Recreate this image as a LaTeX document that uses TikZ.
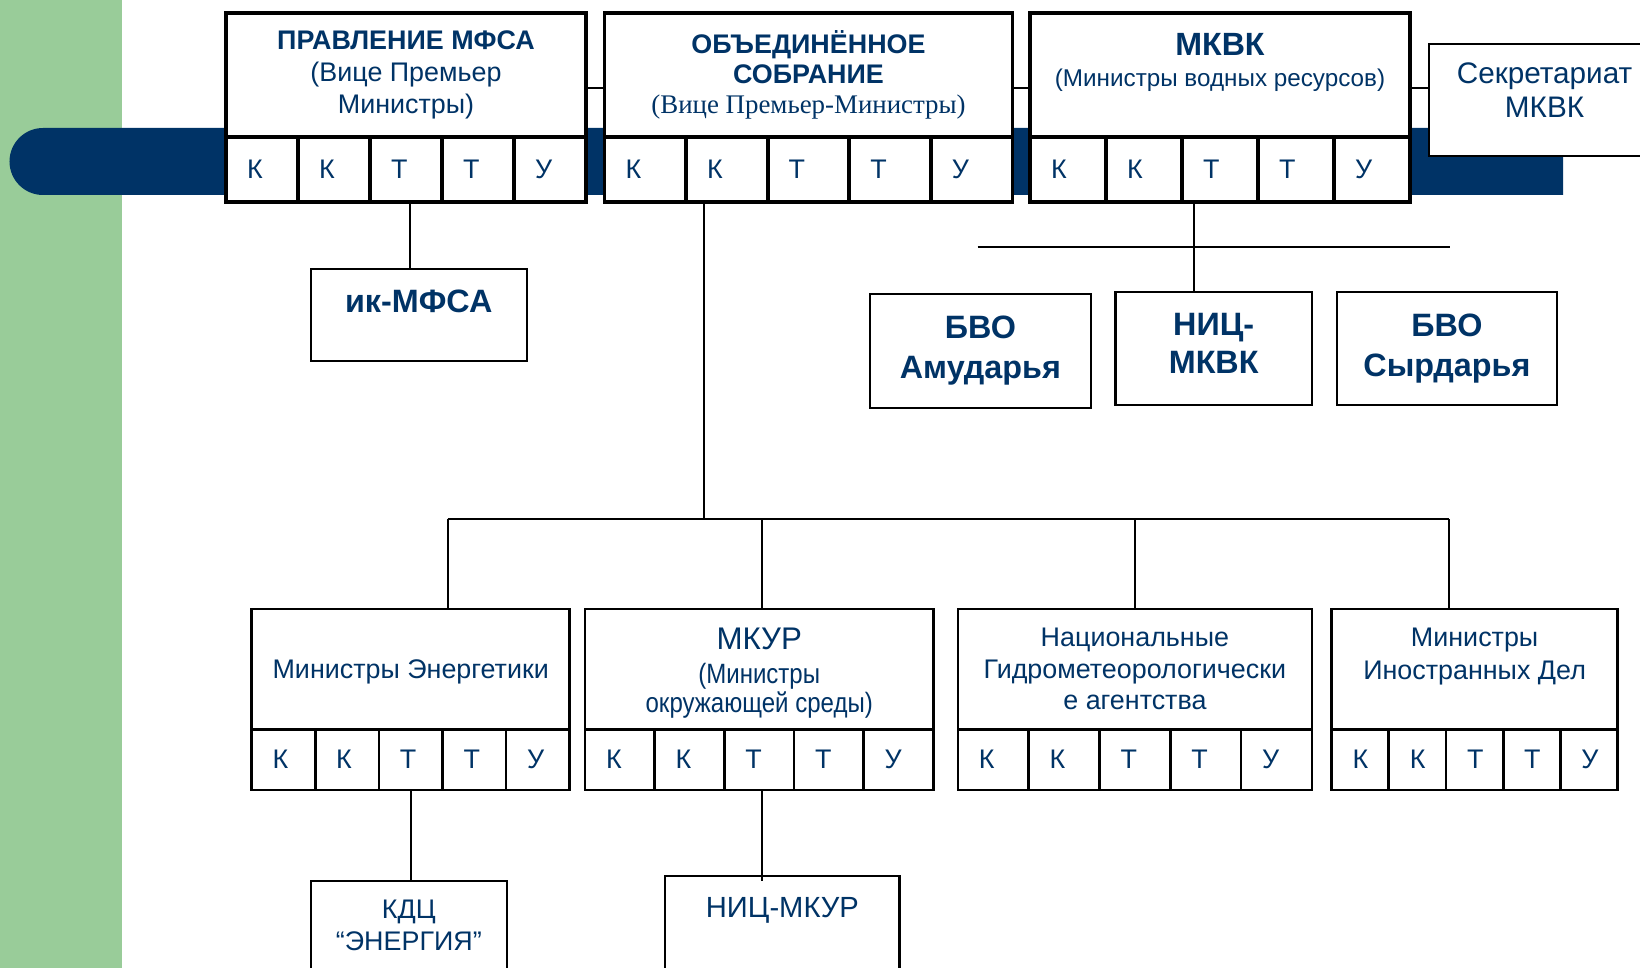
\documentclass[tikz,border=0pt]{standalone}
\usepackage{fontspec}
\setmainfont{Liberation Sans}
\newfontfamily\timesfont{Liberation Serif}
\newfontfamily\narrowfont[FakeStretch=0.86]{Liberation Sans}
\usetikzlibrary{positioning}
\definecolor{navy}{RGB}{0,51,102}
\definecolor{leaf}{RGB}{153,204,153}

% row of five cells under a header node, letters set from the left
\newcommand{\kttu}[4]{%
  \pgfmathsetlengthmacro\kttuw{#2-4.2mm}
  \foreach \i/\c in {0/К,1/К,2/Т,3/Т,4/У}
    \node[#4, minimum height=#3, text width=\kttuw, inner xsep=2.1mm, align=left, anchor=north west, xshift=\i*#2] (#1\i) at (#1.south west) {\c};
}

\begin{document}
\begin{tikzpicture}[
    every node/.style={inner sep=0pt, outer sep=0pt, text=navy, align=center},
    topbox/.style={draw, fill=white, line width=1.1pt, font=\fontsize{7.65}{9.1}\selectfont},
    lowbox/.style={draw, fill=white, line width=0.75pt, font=\fontsize{7.65}{9}\selectfont},
    subbox/.style={draw, fill=white, line width=0.65pt},
    link/.style={line width=0.6pt}]
	\useasboundingbox (0,0) rectangle (16.4,-9.68);
	\clip (0,0) rectangle (16.4,-9.68);
	% background
	\fill[leaf] (0,0) rectangle (1.22,-9.68);
	\fill[navy] (15.63,-1.28) -- (0.43,-1.28) arc (90:270:0.335) -- (15.63,-1.95) -- cycle;

	% top row
	\node[topbox, minimum width=3.6cm, minimum height=1.246cm] (pr) at (4.06,-0.75) {\textbf{ПРАВЛЕНИЕ МФСА}\\(Вице Премьер\\Министры)};
	\kttu{pr}{7.2mm}{6.47mm}{topbox}
	\node[topbox, minimum width=4.08cm, minimum height=1.246cm, font=\fontsize{7.65}{8.5}\selectfont] (os) at (8.085,-0.75) {\textbf{ОБЪЕДИНЁННОЕ}\\\textbf{СОБРАНИЕ}\\{\timesfont(Вице Премьер-Министры)}};
	\kttu{os}{8.16mm}{6.47mm}{topbox}
	\node[topbox, minimum width=3.8cm, minimum height=1.246cm] (mk) at (12.2,-0.75) {};
	\node[below=2.1mm of mk.north, font=\fontsize{6.9}{8.6}\selectfont] (mkT) {{\fontsize{9.15}{8.6}\selectfont\textbf{МКВК}}\\(Министры водных ресурсов)};
	\kttu{mk}{7.6mm}{6.47mm}{topbox}
	\node[subbox, minimum width=2.31cm, minimum height=1.12cm] (sec) at (15.445,-1.0) {};
	\node[below=1.9mm of sec.north, font=\fontsize{8.45}{9.5}\selectfont] (secT) {Секретариат\\МКВК};

	\draw[link] ([yshift=-1.3mm]pr.east) -- ([yshift=-1.3mm]os.west);
	\draw[link] ([yshift=-1.3mm]os.east) -- ([yshift=-1.3mm]mk.west);
	\draw[link] ([yshift=-1.3mm]mk.east) -- ([yshift=-1.3mm]mk.east -| sec.west);

	% under the top row
	\node[subbox, minimum width=2.16cm, minimum height=0.914cm] (ik) at (4.187,-3.15) {};
	\node[below=2.1mm of ik.north, font=\fontsize{9.2}{10}\selectfont] (ikT) {\textbf{ик-МФСА}};
	\draw[link] ([xshift=0.4mm]pr2.south) -- ([xshift=0.4mm]pr2.south |- ik.north);

	\node[subbox, minimum width=2.213cm, minimum height=1.137cm, font=\fontsize{9.2}{11.4}\selectfont] (bvoA) at (9.804,-3.509) {\textbf{БВО}\\\textbf{Амударья}};
	\node[subbox, minimum width=1.965cm, minimum height=1.127cm] (nicK) at (12.137,-3.487) {};
	\node[below=2.1mm of nicK.north, font=\fontsize{9.2}{10.9}\selectfont] (nicKT) {\textbf{НИЦ-}\\\textbf{МКВК}};
	\node[subbox, minimum width=2.203cm, minimum height=1.127cm, font=\fontsize{9.2}{11.4}\selectfont] (bvoS) at (14.469,-3.487) {\textbf{БВО}\\\textbf{Сырдарья}};
	\coordinate (rowL) at (9.776,-2.467);
	\coordinate (rowR) at (14.5,-2.467);
	\draw[link] (rowL) -- (rowR);
	\draw[link] ([xshift=-2.6mm]mk2.south) -- ([xshift=-2.6mm]mk2.south |- nicK.north);

	% bottom row
	\node[lowbox, minimum width=3.182cm, minimum height=1.203cm, text depth=0pt] (me) at (4.107,-6.692) {Министры Энергетики};
	\kttu{me}{6.364mm}{6.07mm}{lowbox}
	\node[lowbox, minimum width=3.484cm, minimum height=1.203cm] (mkur) at (7.592,-6.692) {};
	\node[below=1.9mm of mkur.north, font=\fontsize{7.95}{8.3}\selectfont] (mkurT) {{\fontsize{8.9}{8.3}\selectfont МКУР}\\[1.4pt]{\narrowfont(Министры}\\{\narrowfont окружающей среды)}};
	\kttu{mkur}{6.968mm}{6.07mm}{lowbox}
	\node[lowbox, minimum width=3.54cm, minimum height=1.203cm] (nat) at (11.349,-6.692) {Национальные\\Гидрометеорологически\\е агентства};
	\kttu{nat}{7.08mm}{6.07mm}{lowbox}
	\node[lowbox, minimum width=2.862cm, minimum height=1.203cm] (mid) at (14.746,-6.692) {};
	\node[below=1.9mm of mid.north, font=\fontsize{7.65}{9.4}\selectfont] (midT) {Министры\\Иностранных Дел};
	\kttu{mid}{5.724mm}{6.07mm}{lowbox}

	\coordinate (busL) at (4.477,-5.19);
	\coordinate (busR) at (14.493,-5.19);
	\draw[link] ([xshift=-2.3mm]os1.south) -- ([xshift=-2.3mm]os1.south |- busL);
	\draw[link] (busL) -- (busR);
	\draw[link] (busL) -- (busL |- me.north);
	\draw[link] ([xshift=0.3mm]busL -| mkur.north) -- ([xshift=0.3mm]mkur.north);
	\draw[link] (busL -| nat.north) -- (nat.north);
	\draw[link] (busR) -- (busR |- mid.north);

	% below the bottom row
	\node[subbox, minimum width=1.961cm, minimum height=1.19cm] (kdc) at (4.0885,-9.405) {};
	\node[below=1.9mm of kdc.north, font=\fontsize{7.65}{9.1}\selectfont] (kdcT) {КДЦ\\“ЭНЕРГИЯ”};
	\node[subbox, minimum width=2.341cm, minimum height=1.24cm] (nicm) at (7.8235,-9.38) {};
	\node[below=2.1mm of nicm.north, font=\fontsize{8.3}{9}\selectfont] (nicmT) {НИЦ-МКУР};
	\draw[link] (me2.south) -- (me2.south |- kdc.north);
	\draw[link] ([xshift=0.3mm]mkur2.south) -- ([xshift=0.3mm,yshift=-0.5mm]mkur2.south |- nicm.north);
\end{tikzpicture}
\end{document}
